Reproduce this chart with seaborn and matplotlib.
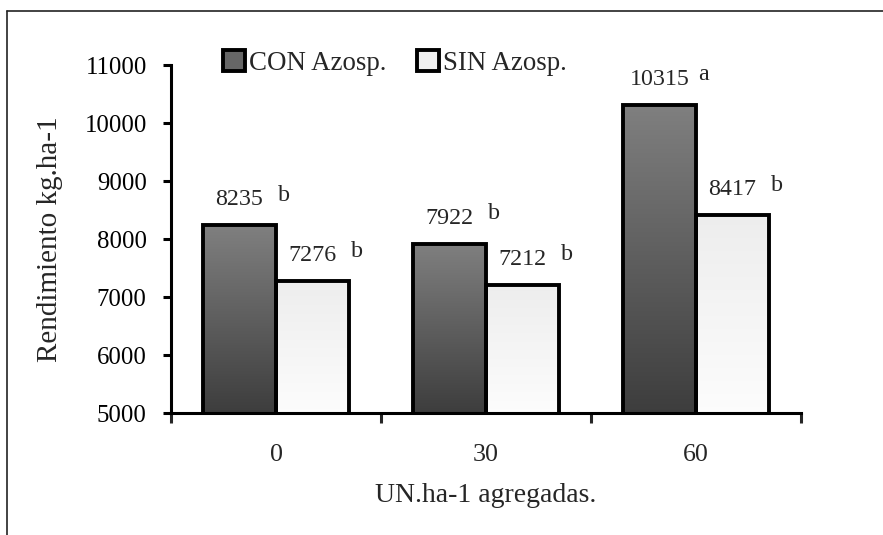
import numpy as np
import pandas as pd
import matplotlib
matplotlib.use("Agg")
import matplotlib.pyplot as plt
from matplotlib.patches import Patch
from matplotlib.lines import Line2D
import seaborn as sns

# Data: grain yield (kg/ha) by N dose, with and without Azospirillum
dosis = ["0", "30", "60"]
tratamientos = ["CON Azosp.", "SIN Azosp."]
con_azosp = [8235, 7922, 10315]
sin_azosp = [7276, 7212, 8417]
letras_con = ["b", "b", "a"]
letras_sin = ["b", "b", "b"]
y_ticks = [5000, 6000, 7000, 8000, 9000, 10000, 11000]

df = pd.DataFrame({
    "dosis": dosis * 2,
    "tratamiento": [tratamientos[0]] * 3 + [tratamientos[1]] * 3,
    "rendimiento": con_azosp + sin_azosp,
})

sns.set_style("ticks")
plt.rcParams["font.family"] = ["Liberation Serif", "DejaVu Serif"]

fig = plt.figure(figsize=(8.83, 5.35), dpi=100)
ax = fig.add_axes([0.1937, 0.2280, 0.7134, 0.6505])

sns.barplot(data=df, x="dosis", y="rendimiento", hue="tratamiento",
            order=dosis, hue_order=tratamientos, width=0.695,
            palette=["#606060", "#f4f4f4"], edgecolor="black",
            linewidth=2.8, legend=False, ax=ax, zorder=3)

ymin, ymax = 5000, 11000
ax.set_ylim(ymin, ymax)
ax.set_xlim(-0.5, 2.5)

# vertical gradient fills inside each bar
gradientes = [((0.50, 0.50, 0.50), (0.24, 0.24, 0.24)),
              ((0.93, 0.93, 0.93), (0.99, 0.99, 0.99))]
for cont, (top, bottom) in zip(ax.containers, gradientes):
    for bar in cont:
        x0, w, h = bar.get_x(), bar.get_width(), bar.get_height()
        t = np.linspace(0, 1, 256)
        img = np.empty((256, 1, 3))
        for k in range(3):
            img[:, 0, k] = top[k] + (bottom[k] - top[k]) * t
        im = ax.imshow(img, extent=[x0, x0 + w, ymin, h], aspect="auto",
                       origin="upper", zorder=2, interpolation="bilinear")
        im.set_clip_path(bar)
        bar.set_facecolor("none")
ax.set_ylim(ymin, ymax)
ax.set_xlim(-0.5, 2.5)

# value labels and significance letters
for cont, valores, letras in zip(ax.containers, [con_azosp, sin_azosp],
                                 [letras_con, letras_sin]):
    for bar, v, l in zip(cont, valores, letras):
        xc = bar.get_x() + bar.get_width() / 2
        ax.annotate(f"{v}", xy=(xc, bar.get_height()), xytext=(0, 14.4),
                    textcoords="offset points", ha="center", va="baseline",
                    fontsize=17.3, zorder=5)
        ax.annotate(l, xy=(xc, bar.get_height()), xytext=(32, 17.5),
                    textcoords="offset points", ha="center", va="baseline",
                    fontsize=17.3, zorder=5)

# axes styling
for s in ["top", "right"]:
    ax.spines[s].set_visible(False)
for s in ["left", "bottom"]:
    ax.spines[s].set_linewidth(2.2)
    ax.spines[s].set_color("black")
    ax.spines[s].set_zorder(4)

ax.set_yticks(y_ticks)
ax.set_yticklabels([str(v) for v in y_ticks], fontsize=17.8)
ax.tick_params(axis="y", direction="out", length=6, width=2.2, pad=11.5,
               colors="black")
ax.set_xticks([0, 1, 2])
ax.set_xticklabels(dosis, fontsize=18.7)
ax.set_xticks([-0.5, 0.5, 1.5, 2.5], minor=True)
ax.tick_params(axis="x", which="major", length=0, pad=22)
ax.tick_params(axis="x", which="minor", direction="out", length=7, width=2.2)

ax.set_xlabel("UN.ha-1 agregadas.", fontsize=20)
ax.set_ylabel("Rendimiento kg.ha-1", fontsize=21)
ax.xaxis.set_label_coords(0.5, -0.20)
ax.yaxis.set_label_coords(-0.172, 0.5)

handles = [Patch(facecolor="#666666", edgecolor="black", linewidth=2.8),
           Patch(facecolor="#f0f0f0", edgecolor="black", linewidth=2.8)]
ax.legend(handles, tratamientos, loc="center left",
          bbox_to_anchor=(0.0825, 1.006), ncol=2, frameon=False,
          fontsize=19.4, handlelength=0.8, handleheight=0.8,
          handletextpad=0.15, columnspacing=1.15, borderpad=0,
          borderaxespad=0)

# outer frame of the figure
fx, fy = 7 / 883, 1 - 11 / 535
fig.add_artist(Line2D([fx, 1.0], [fy, fy], transform=fig.transFigure,
                      color="#222222", linewidth=1.2))
fig.add_artist(Line2D([fx, fx], [0.0, fy], transform=fig.transFigure,
                      color="#222222", linewidth=1.2))

fig.savefig("out.png", dpi=100, facecolor="white")
